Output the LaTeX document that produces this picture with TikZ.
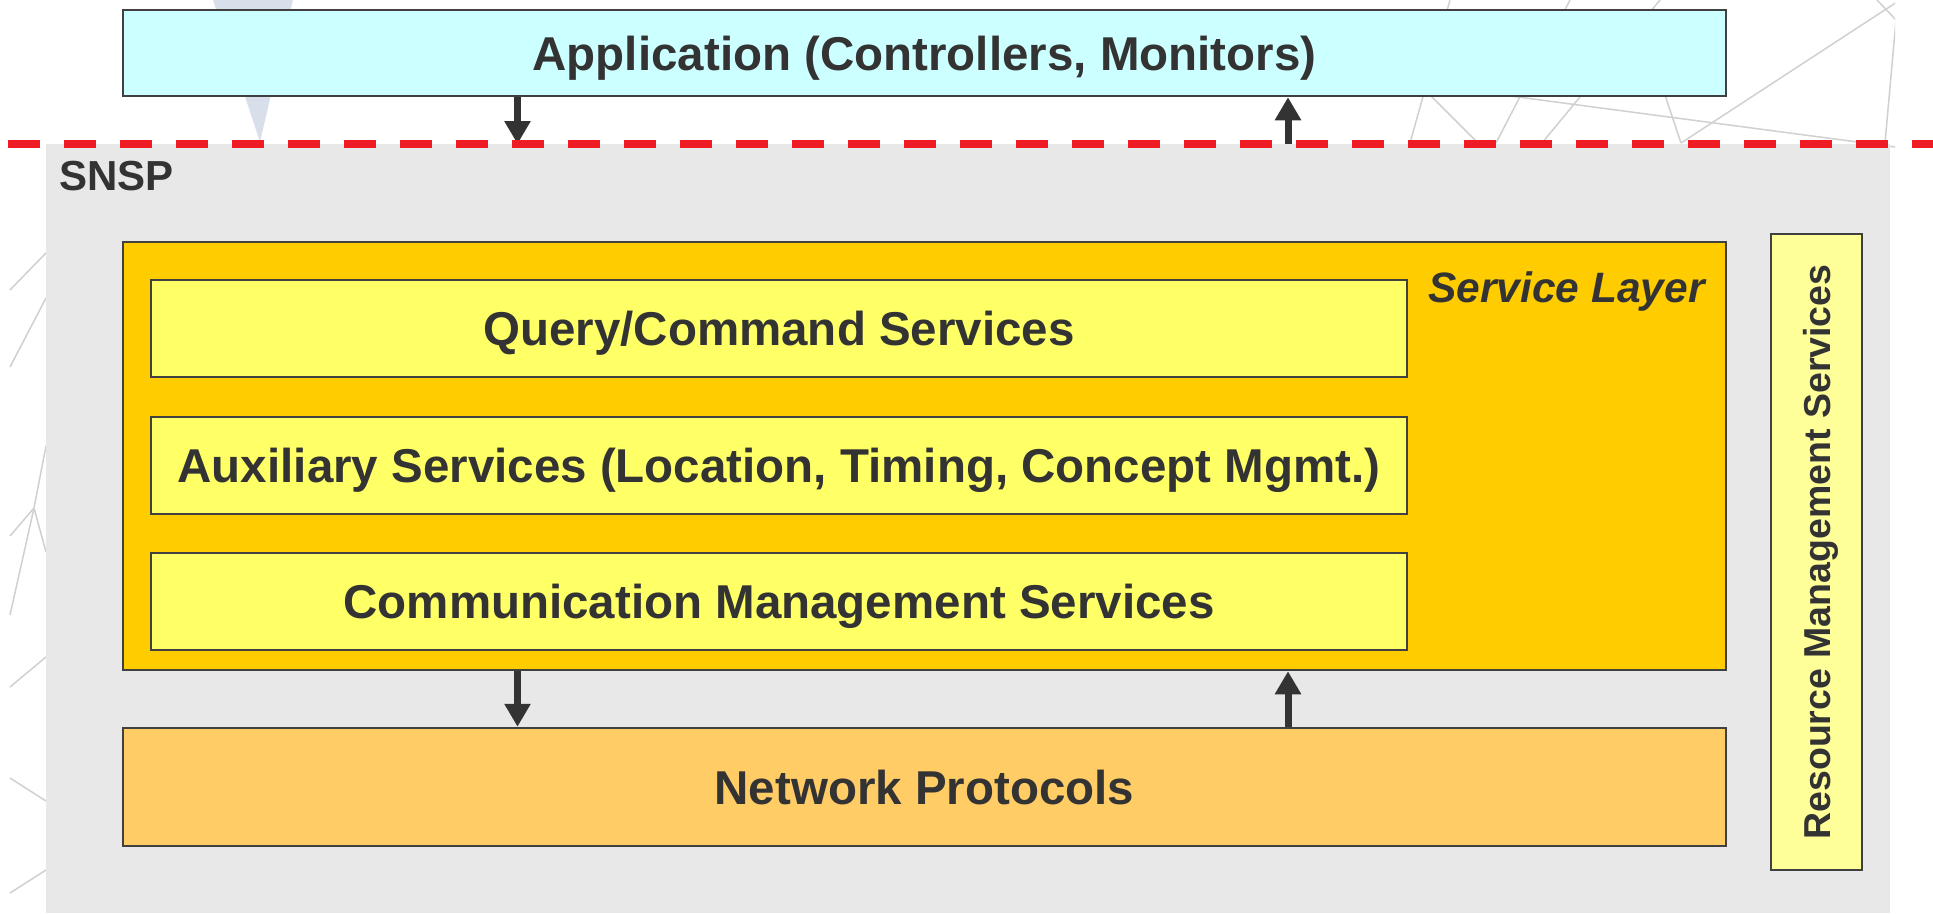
\documentclass[tikz,border=0pt]{standalone}
\usepackage{fontspec}
\setmainfont{Liberation Sans}
\usetikzlibrary{arrows.meta}

\definecolor{ink}{HTML}{333333}
\definecolor{edge}{HTML}{404040}
\definecolor{appfill}{HTML}{CCFFFF}
\definecolor{snspfill}{HTML}{E8E8E8}
\definecolor{layerfill}{HTML}{FFCC00}
\definecolor{svcfill}{HTML}{FFFF66}
\definecolor{netfill}{HTML}{FFCC66}
\definecolor{resfill}{HTML}{FFFF99}
\definecolor{cutred}{HTML}{EE1C25}
\definecolor{webgray}{HTML}{D0D0D0}
\definecolor{shard}{HTML}{D8DFEA}

\begin{document}
\begin{tikzpicture}[x=1pt,y=-1pt,
  box/.style={draw=edge, line width=2.5pt, rectangle, inner sep=0pt, text=ink,
    font=\fontsize{47.5}{57}\selectfont\bfseries, text height=34pt, text depth=0pt},
  panel/.style={fill=snspfill, rectangle, inner sep=0pt},
  flow/.style={draw=ink, line width=7pt, -{Triangle[width=25pt,length=23pt]}},
  web/.style={draw=webgray, line width=1.5pt},
  cut/.style={draw=cutred, line width=8pt, dash pattern=on 32pt off 24pt}
]
\useasboundingbox (0,0) rectangle (1933,913);

% faint backdrop ornaments
\fill[shard] (213,0) -- (293,0) -- (260,142) -- cycle;
\begin{scope}
  \clip (0,0) rectangle (1895,913);
  \draw[web] (10,290) -- (46,253);
  \draw[web] (10,367) -- (46,298);
  \draw[web] (34,508) -- (10,536);
  \draw[web] (34,508) -- (10,615);
  \draw[web] (34,508) -- (46,446);
  \draw[web] (34,508) -- (46,552);
  \draw[web] (10,687) -- (46,657);
  \draw[web] (10,778) -- (46,801);
  \draw[web] (10,893) -- (46,870);
  \draw[web] (1410,143) -- (1450,0);
  \draw[web] (1478,143) -- (1380,45);
  \draw[web] (1496,143) -- (1570,0);
  \draw[web] (1542,143) -- (1660,0);
  \draw[web] (1450,88) -- (1933,152);
  \draw[web] (1650,50) -- (1681,143);
  \draw[web] (1681,143) -- (1900,0);
  \draw[web] (1877,0) -- (1896,20);
  \draw[web] (1896,20) -- (1885,143);
\end{scope}

% SNSP panel
\node[panel, minimum width=1844pt, minimum height=769pt] (snsp) at (968,528.5) {};
\node[anchor=base west, inner sep=0pt, text=ink,
  font=\fontsize{42}{50}\selectfont\bfseries] (snsplabel) at (59,190) {SNSP};

% application on top
\node[box, fill=appfill, minimum width=1603pt, minimum height=86pt] (app)
  at (924.5,53) {Application (Controllers, Monitors)};

% service layer with its services
\node[box, fill=layerfill, minimum width=1603pt, minimum height=428pt] (layer) at (924.5,456) {};
\node[anchor=base east, inner sep=0pt, text=ink,
  font=\fontsize{42.5}{50}\selectfont\bfseries\itshape] (layername) at (1705,302) {Service Layer};
\node[box, fill=svcfill, minimum width=1256pt, minimum height=97pt] (query)
  at (779,328.5) {Query/Command Services};
\node[box, fill=svcfill, minimum width=1256pt, minimum height=97pt] (aux)
  at (779,465.5) {Auxiliary Services (Location, Timing, Concept Mgmt.)};
\node[box, fill=svcfill, minimum width=1256pt, minimum height=97pt] (comm)
  at (779,601.5) {Communication Management Services};

% network protocols
\node[box, fill=netfill, minimum width=1603pt, minimum height=118pt] (net)
  at (924.5,787) {Network Protocols};

% resource management column
\node[box, fill=resfill, rotate=90, minimum width=636pt, minimum height=91pt,
  font=\fontsize{37.5}{45}\selectfont\bfseries, text height=27pt] (res)
  at (1816.5,552) {Resource Management Services};

% interfaces
\coordinate (tapL) at (517.5,144);
\coordinate (tapR) at (1288,144);
\draw[flow] (app.south -| tapL) -- (tapL);
\draw[flow] (tapR) -- (app.south -| tapR);
\draw[flow] (layer.south -| tapL) -- (net.north -| tapL);
\draw[flow] (net.north -| tapR) -- (layer.south -| tapR);

% system boundary
\coordinate (cutA) at (8,144);
\coordinate (cutB) at (1933,144);
\draw[cut] (cutA) -- (cutB);
\end{tikzpicture}
\end{document}
